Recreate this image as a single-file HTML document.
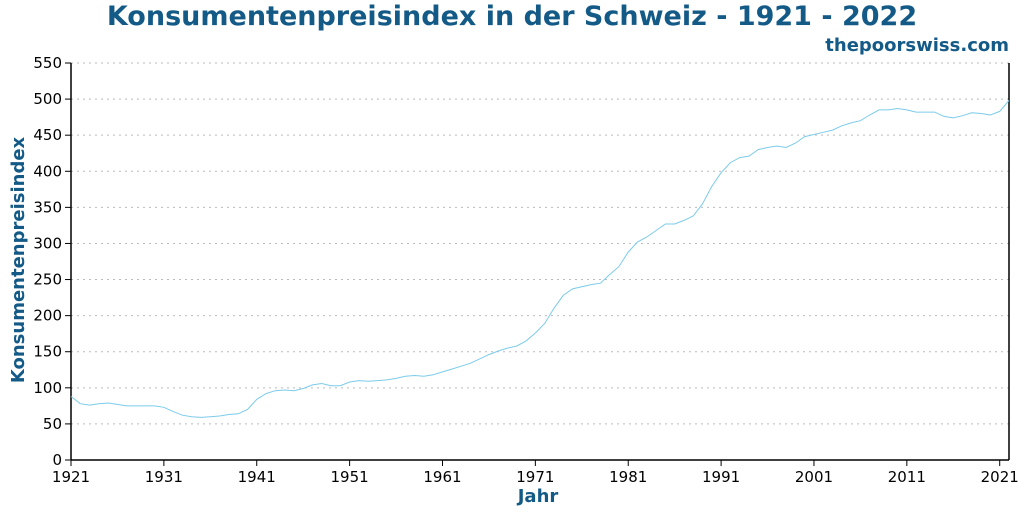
<!DOCTYPE html>
<html><head><meta charset="utf-8"><style>
body{margin:0;background:#fff;width:1024px;height:512px;overflow:hidden;font-family:"DejaVu Sans","Liberation Sans",sans-serif}
</style></head><body>
<svg id="chart" width="1024" height="512" xmlns="http://www.w3.org/2000/svg" font-family="DejaVu Sans, Liberation Sans, sans-serif">
<text x="512" y="25" text-anchor="middle" font-size="27" font-weight="bold" fill="#145a87">Konsumentenpreisindex in der Schweiz - 1921 - 2022</text>
<text x="1009" y="51" text-anchor="end" font-size="18" font-weight="bold" fill="#145a87">thepoorswiss.com</text>
<text transform="translate(24,260) rotate(-90)" text-anchor="middle" font-size="18" font-weight="bold" fill="#145a87">Konsumentenpreisindex</text>
<text x="538" y="502" text-anchor="middle" font-size="18" font-weight="bold" fill="#145a87">Jahr</text>
<g id="grid"></g><g id="axes"></g><g id="series"></g>
</svg>
<script>
const years = [];
for (let y = 1921; y <= 2022; y++) years.push(y);
const cpiValues = [88,78,76,78,79,77,75,75,75,75,73,67,62,60,59,60,61,63,64,70,84,92,96,97,96,99,104,106,103,103,108,110,109,110,111,113,116,117,116,118,122,126,130,134,140,146,151,155,158,165,176,189,210,228,237,240,243,245,257,268,288,302,309,318,327,327,332,338,355,379,398,412,419,421,430,433,435,433,439,448,451,454,457,463,467,470,478,485,485,487,485,482,482,482,476,474,477,481,480,478,483,498];
const yTicks = [0,50,100,150,200,250,300,350,400,450,500,550];
const xTicks = [1921,1931,1941,1951,1961,1971,1981,1991,2001,2011,2021];
const NS = "http://www.w3.org/2000/svg";
const X0 = 71, X1 = 1009, Y0 = 460, Y1 = 63;
const xS = v => X0 + (v - 1921) / (2022 - 1921) * (X1 - X0);
const yS = v => Y0 - v / 550 * (Y0 - Y1);
function mk(tag, attrs, parent) {
  const e = document.createElementNS(NS, tag);
  for (const k in attrs) e.setAttribute(k, attrs[k]);
  parent.appendChild(e); return e;
}
const grid = document.getElementById('grid'), axes = document.getElementById('axes'), series = document.getElementById('series');
yTicks.forEach(t => {
  if (t > 0) {
    const g = mk('line', {x1: X0, x2: X1, y1: yS(t), y2: yS(t), stroke: '#bbb', 'stroke-dasharray': '2,4', 'stroke-width': 1}, grid);
    
    
  }
  mk('line', {x1: X0 - 6, x2: X0, y1: yS(t), y2: yS(t), stroke: '#000'}, axes);
  const l = mk('text', {x: X0 - 9, y: yS(t) + 5, 'text-anchor': 'end', 'font-size': 15}, axes);
  l.textContent = t;
  
  
});
xTicks.forEach(t => {
  mk('line', {x1: xS(t), x2: xS(t), y1: Y0, y2: Y0 + 6, stroke: '#000'}, axes);
  const l = mk('text', {x: xS(t), y: Y0 + 22, 'text-anchor': 'middle', 'font-size': 15}, axes);
  l.textContent = t;
  
  
});
const ya = mk('line', {x1: X0, x2: X0, y1: Y1, y2: Y0, stroke: '#000', 'stroke-width': 1.5}, axes);


const xa = mk('line', {x1: X0, x2: X1, y1: Y0, y2: Y0, stroke: '#000', 'stroke-width': 1.5}, axes);


const ra = mk('line', {x1: X1, x2: X1, y1: Y1, y2: Y0, stroke: '#000', 'stroke-width': 1.5}, axes);


const pts = years.map((y, i) => xS(y).toFixed(1) + ',' + yS(cpiValues[i]).toFixed(1)).join(' ');
const line = mk('polyline', {points: pts, fill: 'none', stroke: '#7ccbea', 'stroke-width': 1}, series);


</script>
</body></html>
